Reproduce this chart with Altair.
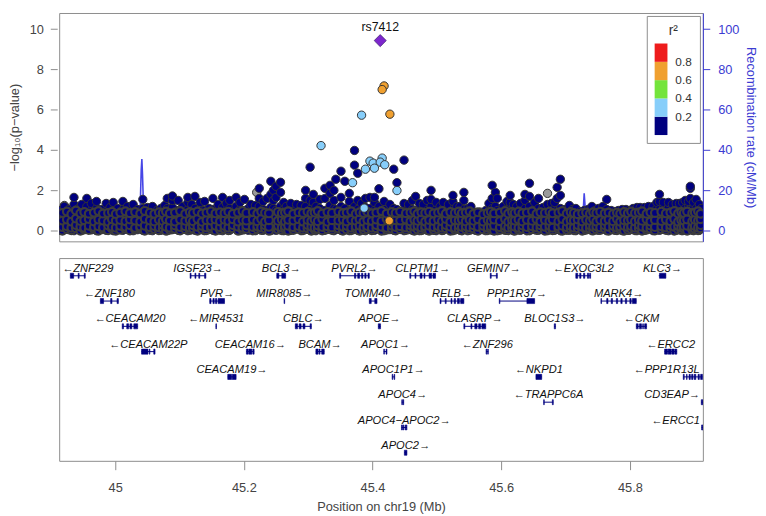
import altair as alt
import pandas as pd

# ---------------- data ----------------
X_DOMAIN = [44.913, 45.9135]
LOGP_DOMAIN = [-0.53, 10.8]
RATE_DOMAIN = [-5.3, 108]

# bulk of SNPs with r2 < 0.2 : (position Mb, [-log10 p values at that position])
navy_snps = [
    (44.915, [0.02, 0.3, 0.65, 1.0]), (44.921, [0.1, 0.45, 0.8, 1.2]),
    (44.928, [0.05, 0.35, 0.7, 1.05]), (44.936, [0.0, 0.25, 0.55, 0.9, 1.3, 1.65]),
    (44.943, [0.08, 0.4, 0.75, 1.1]), (44.948, [0.02, 0.3, 0.6, 0.95, 1.3]),
    (44.956, [0.1, 0.45, 0.8, 1.2, 1.6]), (44.963, [0.04, 0.3, 0.65, 1.0, 1.35]),
    (44.971, [0.0, 0.35, 0.7, 1.1, 1.45]), (44.978, [0.06, 0.4, 0.75, 1.05]),
    (44.986, [0.02, 0.28, 0.6, 0.95, 1.35]), (44.992, [0.1, 0.45, 0.8, 1.15]),
    (44.997, [0.0, 0.3, 0.65, 1.0, 1.4]), (45.004, [0.05, 0.4, 0.75, 1.1]),
    (45.012, [0.02, 0.35, 0.7, 1.05, 1.45]), (45.019, [0.08, 0.3, 0.6, 0.9, 1.2]),
    (45.028, [0.0, 0.4, 0.75, 1.0, 1.3]), (45.035, [0.05, 0.3, 0.65, 1.05]),
    (45.043, [0.02, 0.35, 0.7, 1.1, 1.55]), (45.050, [0.1, 0.4, 0.8, 1.15]),
    (45.058, [0.0, 0.3, 0.6, 0.95, 1.2]), (45.065, [0.06, 0.35, 0.7, 1.0]),
    (45.071, [0.02, 0.4, 0.75, 1.1]), (45.077, [0.1, 0.3, 0.6, 0.95, 1.25]),
    (45.081, [0.0, 0.35, 0.7, 1.1, 1.6]), (45.089, [0.05, 0.4, 0.8, 1.15, 1.5, 1.72]),
    (45.098, [0.02, 0.3, 0.65, 1.0, 1.5]), (45.105, [0.08, 0.45, 0.8, 1.2]),
    (45.113, [0.0, 0.35, 0.7, 1.05, 1.4, 1.65]), (45.119, [0.05, 0.3, 0.6, 0.95, 1.3]),
    (45.124, [0.02, 0.4, 0.75, 1.1, 1.7]), (45.132, [0.1, 0.35, 0.7, 1.05, 1.4]),
    (45.139, [0.0, 0.3, 0.65, 1.0, 1.45]), (45.146, [0.06, 0.4, 0.75, 1.1]),
    (45.152, [0.02, 0.35, 0.7, 1.05, 1.6]), (45.160, [0.1, 0.3, 0.6, 0.95, 1.3]),
    (45.167, [0.0, 0.4, 0.8, 1.15, 1.65]), (45.173, [0.05, 0.35, 0.7, 1.0, 1.35]),
    (45.178, [0.02, 0.3, 0.65, 1.1, 1.5]), (45.188, [0.08, 0.45, 0.8, 1.2, 1.65]),
    (45.194, [0.0, 0.35, 0.7, 1.05, 1.4]), (45.201, [0.05, 0.3, 0.65, 1.0, 1.55]),
    (45.207, [0.02, 0.4, 0.75, 1.1]), (45.211, [0.1, 0.35, 0.7, 1.3]),
    (45.218, [0.0, 0.3, 0.6, 0.95, 1.25]), (45.224, [0.06, 0.4, 0.8, 1.2, 1.6, 2.1]),
    (45.230, [0.02, 0.35, 0.7, 1.05, 1.45]), (45.236, [0.1, 0.3, 0.65, 1.0, 1.6]),
    (45.242, [0.0, 0.4, 0.75, 1.15, 1.8, 2.45]), (45.246, [0.05, 0.35, 0.7, 1.1, 1.5, 2.0]),
    (45.250, [0.02, 0.3, 0.6, 1.0, 1.65, 2.2]), (45.257, [0.08, 0.45, 0.8, 1.2, 1.9, 2.4]),
    (45.262, [0.0, 0.35, 0.7, 1.05, 1.4]), (45.266, [0.05, 0.3, 0.65, 1.2]),
    (45.273, [0.02, 0.4, 0.75, 1.1, 1.35]), (45.282, [0.1, 0.35, 0.7, 1.05, 1.3]),
    (45.289, [0.0, 0.3, 0.6, 0.95, 1.25]), (45.296, [0.06, 0.4, 0.8, 1.2, 1.6, 2.0]),
    (45.303, [0.02, 0.35, 0.7, 1.05, 1.5, 3.15]), (45.308, [0.1, 0.3, 0.65, 1.0, 1.4, 1.8]),
    (45.312, [0.0, 0.4, 0.75, 1.2]), (45.318, [0.05, 0.35, 0.7, 1.1, 1.55]),
    (45.326, [0.02, 0.3, 0.6, 1.0, 1.6, 2.1]), (45.334, [0.08, 0.45, 0.8, 1.25, 1.85, 2.25]),
    (45.340, [0.0, 0.35, 0.7, 1.1, 1.5, 2.0]), (45.343, [0.05, 0.3, 0.65, 1.05, 2.55]),
    (45.351, [0.02, 0.4, 0.75, 1.2, 1.65, 2.95]), (45.357, [0.1, 0.35, 0.7, 1.1, 2.45]),
    (45.364, [0.0, 0.3, 0.65, 1.0, 1.45, 1.85]), (45.372, [0.06, 0.4, 0.8, 1.2, 3.25, 3.98]),
    (45.377, [0.02, 0.35, 0.7, 1.05, 1.5, 2.85]), (45.383, [0.1, 0.3, 0.6, 0.95, 1.35]),
    (45.389, [0.0, 0.4, 0.75, 1.15, 1.6]), (45.396, [0.05, 0.35, 0.7, 1.1, 1.65]),
    (45.403, [0.02, 0.3, 0.65, 1.0, 1.4, 1.65]), (45.410, [0.08, 0.45, 0.8, 1.2, 2.08]),
    (45.418, [0.0, 0.35, 0.7, 1.05, 1.45]), (45.427, [0.05, 0.3, 0.65, 1.0, 1.3]),
    (45.433, [0.02, 0.4, 0.75, 1.1, 3.05]), (45.438, [0.1, 0.35, 0.7, 1.05, 2.38]),
    (45.449, [0.0, 0.3, 0.65, 1.0, 1.35, 3.5]), (45.456, [0.05, 0.4, 0.75, 1.15, 1.3]),
    (45.462, [0.02, 0.35, 0.7, 1.05, 1.5]), (45.467, [0.1, 0.3, 0.6, 1.0, 1.7]),
    (45.473, [0.0, 0.4, 0.75, 1.1, 1.35]), (45.479, [0.05, 0.35, 0.7, 1.05, 1.3]),
    (45.485, [0.02, 0.3, 0.65, 1.0, 1.5]), (45.491, [0.08, 0.45, 0.8, 1.2, 1.55, 2.0]),
    (45.499, [0.0, 0.35, 0.7, 1.05, 1.4]), (45.505, [0.05, 0.3, 0.6, 0.95, 1.2]),
    (45.510, [0.02, 0.4, 0.75, 1.1, 1.4]), (45.518, [0.1, 0.35, 0.7, 1.05, 1.3]),
    (45.525, [0.0, 0.3, 0.65, 1.05, 1.45, 1.75]), (45.531, [0.06, 0.4, 0.8, 1.2]),
    (45.536, [0.02, 0.35, 0.7, 1.2]), (45.542, [0.1, 0.3, 0.65, 1.05, 1.5, 1.9]),
    (45.548, [0.0, 0.4, 0.75, 1.1]), (45.553, [0.05, 0.35, 0.7, 1.05, 1.2]),
    (45.560, [0.02, 0.3, 0.6, 0.9]), (45.568, [0.08, 0.35, 0.7, 0.85]),
    (45.576, [0.0, 0.4, 0.75, 1.0]), (45.581, [0.05, 0.3, 0.65, 1.0, 1.35]),
    (45.586, [0.02, 0.35, 0.7, 1.1, 1.6, 2.25]), (45.591, [0.1, 0.4, 0.8, 1.2, 1.9]),
    (45.594, [0.0, 0.3, 0.65, 1.0, 1.6]), (45.603, [0.05, 0.35, 0.7, 1.05, 1.2]),
    (45.609, [0.02, 0.4, 0.75, 1.1, 1.45]), (45.614, [0.1, 0.3, 0.65, 1.0, 1.4, 1.75]),
    (45.619, [0.0, 0.35, 0.7, 1.05, 1.3]), (45.624, [0.06, 0.4, 0.75, 1.2]),
    (45.630, [0.02, 0.3, 0.65, 1.0, 1.35]), (45.637, [0.1, 0.35, 0.7, 1.1, 1.5, 1.8]),
    (45.644, [0.0, 0.4, 0.8, 1.2, 1.7, 2.35]), (45.652, [0.05, 0.3, 0.65, 1.05, 1.4]),
    (45.658, [0.02, 0.35, 0.7, 1.1, 1.6]), (45.665, [0.1, 0.4, 0.75, 1.15]),
    (45.672, [0.0, 0.3, 0.6, 1.0, 1.3]), (45.678, [0.05, 0.35, 0.7, 1.05, 1.35]),
    (45.683, [0.02, 0.4, 0.75, 1.1, 1.4]), (45.687, [0.08, 0.3, 0.65, 1.0, 1.6, 2.15]),
    (45.692, [0.0, 0.35, 0.7, 1.1, 1.75, 2.55]), (45.699, [0.05, 0.4, 0.75, 1.05]),
    (45.706, [0.02, 0.3, 0.65, 1.0, 1.25]), (45.711, [0.1, 0.35, 0.7, 1.05]),
    (45.716, [0.0, 0.4, 0.75, 1.1]), (45.723, [0.06, 0.3, 0.6, 0.95]),
    (45.729, [0.02, 0.35, 0.7, 1.0]), (45.735, [0.1, 0.4, 0.75, 1.05]),
    (45.741, [0.0, 0.3, 0.65, 1.0, 1.2]), (45.746, [0.05, 0.35, 0.7, 1.0]),
    (45.751, [0.02, 0.4, 0.75, 1.1]), (45.758, [0.1, 0.3, 0.65, 1.0, 1.2]),
    (45.764, [0.0, 0.35, 0.7, 1.05, 1.55]), (45.771, [0.06, 0.4, 0.75, 1.0]),
    (45.777, [0.02, 0.3, 0.6, 0.95]), (45.782, [0.1, 0.35, 0.7, 1.0]),
    (45.788, [0.0, 0.4, 0.75, 1.05]), (45.794, [0.05, 0.3, 0.65, 1.05]),
    (45.799, [0.02, 0.35, 0.7, 1.0]), (45.805, [0.1, 0.4, 0.75, 1.1]),
    (45.811, [0.0, 0.3, 0.65, 1.0, 1.15]), (45.816, [0.05, 0.35, 0.7, 1.15]),
    (45.823, [0.02, 0.4, 0.75, 1.15]), (45.829, [0.1, 0.3, 0.65, 1.0, 1.2]),
    (45.836, [0.0, 0.35, 0.7, 1.05, 1.2]), (45.842, [0.05, 0.4, 0.75, 1.1, 1.4]),
    (45.846, [0.02, 0.3, 0.65, 1.05, 1.45, 1.8]), (45.852, [0.1, 0.35, 0.7, 1.1, 1.4]),
    (45.860, [0.0, 0.4, 0.75, 1.15, 1.4]), (45.866, [0.06, 0.3, 0.65, 1.0, 1.3]),
    (45.872, [0.02, 0.35, 0.7, 1.05, 1.35]), (45.877, [0.1, 0.4, 0.75, 1.1, 1.35]),
    (45.882, [0.0, 0.3, 0.65, 1.0, 1.4]), (45.886, [0.05, 0.35, 0.7, 1.1, 1.5]),
    (45.891, [0.02, 0.4, 0.75, 1.15, 1.45]), (45.894, [0.1, 0.3, 0.65, 1.05, 1.6, 2.1, 2.2]),
    (45.899, [0.0, 0.35, 0.7, 1.1, 1.4]), (45.903, [0.05, 0.4, 0.75, 1.1, 1.55]),
    (45.908, [0.02, 0.3, 0.65, 1.0, 1.3]), (45.911, [0.1, 0.35, 0.7, 1.1]),
]

# the densest low band (-log10 p below ~1), also r2 < 0.2
navy_low = [
    (44.918, [0.0, 0.18, 0.5, 0.88]), (44.925, [0.08, 0.22, 0.55, 0.95]),
    (44.932, [0.02, 0.15, 0.45, 0.82]), (44.939, [0.12, 0.28, 0.6, 1.0]),
    (44.946, [0.0, 0.2, 0.48, 0.86]), (44.952, [0.06, 0.14, 0.52, 0.92]),
    (44.959, [0.03, 0.25, 0.58, 0.84]), (44.967, [0.1, 0.18, 0.46, 0.9]),
    (44.974, [0.0, 0.22, 0.55, 0.97]), (44.981, [0.07, 0.16, 0.5, 0.85]),
    (44.989, [0.02, 0.26, 0.44, 0.88]), (44.995, [0.11, 0.2, 0.57, 0.93]),
    (45.001, [0.0, 0.15, 0.49, 0.83]), (45.008, [0.05, 0.24, 0.53, 0.9]),
    (45.016, [0.09, 0.19, 0.47, 0.96]), (45.023, [0.01, 0.27, 0.56, 0.87]),
    (45.031, [0.06, 0.14, 0.5, 0.92]), (45.039, [0.12, 0.21, 0.45, 0.85]),
    (45.046, [0.0, 0.25, 0.59, 0.98]), (45.054, [0.04, 0.17, 0.51, 0.89]),
    (45.061, [0.08, 0.23, 0.46, 0.84]), (45.068, [0.02, 0.16, 0.54, 0.91]),
    (45.074, [0.1, 0.28, 0.48, 0.87]), (45.079, [0.0, 0.2, 0.57, 0.95]),
    (45.085, [0.05, 0.15, 0.5, 0.86]), (45.093, [0.09, 0.26, 0.45, 0.9]),
    (45.101, [0.01, 0.18, 0.55, 0.97]), (45.109, [0.07, 0.22, 0.49, 0.84]),
    (45.116, [0.03, 0.14, 0.53, 0.92]), (45.121, [0.11, 0.27, 0.47, 0.88]),
    (45.128, [0.0, 0.19, 0.58, 0.95]), (45.135, [0.06, 0.24, 0.44, 0.85]),
    (45.142, [0.02, 0.16, 0.52, 0.9]), (45.149, [0.1, 0.21, 0.5, 0.96]),
    (45.156, [0.0, 0.25, 0.56, 0.86]), (45.163, [0.04, 0.17, 0.46, 0.91]),
    (45.170, [0.08, 0.23, 0.54, 0.87]), (45.176, [0.02, 0.15, 0.48, 0.94]),
    (45.183, [0.12, 0.28, 0.57, 0.84]), (45.191, [0.0, 0.2, 0.45, 0.9]),
    (45.198, [0.05, 0.14, 0.53, 0.97]), (45.204, [0.09, 0.26, 0.5, 0.88]),
    (45.214, [0.01, 0.18, 0.55, 0.92]), (45.221, [0.07, 0.22, 0.47, 0.85]),
    (45.227, [0.03, 0.16, 0.58, 0.95]), (45.233, [0.11, 0.27, 0.44, 0.89]),
    (45.239, [0.0, 0.19, 0.52, 0.86]), (45.253, [0.06, 0.24, 0.49, 0.93]),
    (45.259, [0.02, 0.15, 0.56, 0.87]), (45.264, [0.1, 0.21, 0.46, 0.9]),
    (45.269, [0.0, 0.25, 0.54, 0.96]), (45.277, [0.04, 0.17, 0.5, 0.84]),
    (45.285, [0.08, 0.23, 0.57, 0.91]), (45.292, [0.02, 0.15, 0.45, 0.88]),
    (45.299, [0.12, 0.28, 0.53, 0.94]), (45.305, [0.0, 0.2, 0.48, 0.86]),
    (45.310, [0.05, 0.14, 0.55, 0.9]), (45.315, [0.09, 0.26, 0.47, 0.97]),
    (45.322, [0.01, 0.18, 0.58, 0.85]), (45.330, [0.07, 0.22, 0.44, 0.92]),
    (45.337, [0.03, 0.16, 0.52, 0.88]), (45.347, [0.11, 0.27, 0.5, 0.95]),
    (45.354, [0.0, 0.19, 0.56, 0.87]), (45.360, [0.06, 0.24, 0.46, 0.9]),
    (45.367, [0.02, 0.15, 0.54, 0.96]), (45.374, [0.1, 0.21, 0.49, 0.84]),
    (45.380, [0.0, 0.25, 0.57, 0.91]), (45.386, [0.04, 0.17, 0.45, 0.88]),
    (45.392, [0.08, 0.23, 0.53, 0.94]), (45.399, [0.02, 0.15, 0.48, 0.86]),
    (45.406, [0.12, 0.28, 0.55, 0.9]), (45.414, [0.0, 0.2, 0.47, 0.97]),
    (45.422, [0.05, 0.14, 0.58, 0.85]), (45.430, [0.09, 0.26, 0.44, 0.92]),
    (45.436, [0.01, 0.18, 0.52, 0.88]), (45.443, [0.07, 0.22, 0.5, 0.95]),
    (45.452, [0.03, 0.16, 0.56, 0.87]), (45.459, [0.11, 0.27, 0.46, 0.9]),
    (45.465, [0.0, 0.19, 0.54, 0.96]), (45.470, [0.06, 0.24, 0.49, 0.84]),
    (45.476, [0.02, 0.15, 0.57, 0.91]), (45.482, [0.1, 0.21, 0.45, 0.88]),
    (45.488, [0.0, 0.25, 0.53, 0.94]), (45.495, [0.04, 0.17, 0.48, 0.86]),
    (45.502, [0.08, 0.23, 0.55, 0.9]), (45.508, [0.02, 0.15, 0.47, 0.97]),
    (45.514, [0.12, 0.28, 0.58, 0.85]), (45.521, [0.0, 0.2, 0.44, 0.92]),
    (45.528, [0.05, 0.14, 0.52, 0.88]), (45.534, [0.09, 0.26, 0.5, 0.95]),
    (45.539, [0.01, 0.18, 0.56, 0.87]), (45.545, [0.07, 0.22, 0.46, 0.9]),
    (45.551, [0.03, 0.16, 0.54, 0.96]), (45.557, [0.11, 0.27, 0.49, 0.84]),
    (45.564, [0.0, 0.19, 0.57, 0.91]), (45.572, [0.06, 0.24, 0.45, 0.82]),
    (45.579, [0.02, 0.15, 0.53, 0.88]), (45.584, [0.1, 0.21, 0.48, 0.94]),
    (45.589, [0.0, 0.25, 0.55, 0.86]), (45.598, [0.04, 0.17, 0.47, 0.9]),
    (45.606, [0.08, 0.23, 0.58, 0.97]), (45.611, [0.02, 0.15, 0.44, 0.85]),
    (45.617, [0.12, 0.28, 0.52, 0.92]), (45.621, [0.0, 0.2, 0.5, 0.88]),
    (45.627, [0.05, 0.14, 0.56, 0.95]), (45.633, [0.09, 0.26, 0.46, 0.87]),
    (45.640, [0.01, 0.18, 0.54, 0.9]), (45.648, [0.07, 0.22, 0.49, 0.96]),
    (45.655, [0.03, 0.16, 0.57, 0.84]), (45.661, [0.11, 0.27, 0.45, 0.91]),
    (45.668, [0.0, 0.19, 0.53, 0.88]), (45.675, [0.06, 0.24, 0.48, 0.94]),
    (45.680, [0.02, 0.15, 0.55, 0.86]), (45.689, [0.1, 0.21, 0.47, 0.9]),
    (45.695, [0.0, 0.25, 0.58, 0.97]), (45.702, [0.04, 0.17, 0.44, 0.85]),
    (45.708, [0.08, 0.23, 0.52, 0.92]), (45.713, [0.02, 0.15, 0.5, 0.88]),
    (45.719, [0.12, 0.28, 0.56, 0.82]), (45.726, [0.0, 0.2, 0.46, 0.87]),
    (45.732, [0.05, 0.14, 0.54, 0.9]), (45.738, [0.09, 0.26, 0.49, 0.84]),
    (45.743, [0.01, 0.18, 0.57, 0.91]), (45.748, [0.07, 0.22, 0.45, 0.88]),
    (45.754, [0.03, 0.16, 0.53, 0.94]), (45.761, [0.11, 0.27, 0.48, 0.86]),
    (45.767, [0.0, 0.19, 0.55, 0.9]), (45.774, [0.06, 0.24, 0.47, 0.83]),
    (45.780, [0.02, 0.15, 0.58, 0.89]), (45.785, [0.1, 0.21, 0.44, 0.85]),
    (45.791, [0.0, 0.25, 0.52, 0.92]), (45.797, [0.04, 0.17, 0.5, 0.87]),
    (45.802, [0.08, 0.23, 0.56, 0.95]), (45.808, [0.02, 0.15, 0.46, 0.88]),
    (45.814, [0.12, 0.28, 0.54, 0.9]), (45.819, [0.0, 0.2, 0.49, 0.96]),
    (45.826, [0.05, 0.14, 0.57, 0.84]), (45.832, [0.09, 0.26, 0.45, 0.91]),
    (45.839, [0.01, 0.18, 0.53, 0.88]), (45.849, [0.07, 0.22, 0.48, 0.94]),
    (45.856, [0.03, 0.16, 0.55, 0.86]), (45.863, [0.11, 0.27, 0.47, 0.9]),
    (45.869, [0.0, 0.19, 0.58, 0.97]), (45.875, [0.06, 0.24, 0.44, 0.85]),
    (45.880, [0.02, 0.15, 0.52, 0.92]), (45.884, [0.1, 0.21, 0.5, 0.88]),
    (45.889, [0.0, 0.25, 0.56, 0.95]), (45.897, [0.04, 0.17, 0.46, 0.87]),
    (45.901, [0.08, 0.23, 0.54, 0.9]), (45.906, [0.02, 0.15, 0.49, 0.96]),
    (45.910, [0.12, 0.28, 0.57, 0.84]),
]
navy_r2 = 0.1

lightblue_pos = [45.320, 45.383, 45.396, 45.401, 45.415, 45.412, 45.419, 45.389, 45.403, 45.369, 45.438, 45.387]
lightblue_logp = [4.22, 5.73, 3.45, 3.35, 3.6, 3.4, 3.27, 3.05, 3.1, 2.38, 1.99, 1.12]
lightblue_r2 = [0.31, 0.38, 0.27, 0.25, 0.33, 0.29, 0.26, 0.24, 0.28, 0.22, 0.21, 0.23]

orange_pos = [45.418, 45.415, 45.427, 45.426]
orange_logp = [7.18, 7.0, 5.78, 0.49]
orange_r2 = [0.72, 0.70, 0.66, 0.63]

gray_pos = [44.921, 45.220, 45.568, 45.496, 45.606, 45.672]
gray_logp = [1.25, 1.9, 0.92, 0.02, 0.02, 1.85]

lead_pos = [45.412]
lead_logp = [9.43]
lead_name = ["rs7412"]

recomb_pos = [44.913, 44.95, 44.99, 45.02, 45.038, 45.0405, 45.0415, 45.0425, 45.045, 45.07,
              45.078, 45.081, 45.085, 45.10, 45.15, 45.20, 45.25, 45.30, 45.35, 45.36, 45.40,
              45.45, 45.50, 45.55, 45.60, 45.65, 45.70, 45.726, 45.729, 45.7305, 45.733, 45.76,
              45.80, 45.85, 45.90, 45.9135]
recomb_rate = [1.0, 0.8, 1.5, 0.6, 1.2, 30.0, 35.5, 28.0, 2.0, 0.8,
               2.0, 6.5, 2.0, 1.2, 0.5, 1.0, 0.7, 1.5, 0.9, 2.5, 0.6,
               1.0, 0.5, 1.2, 0.8, 0.6, 1.0, 0.8, 18.5, 12.0, 1.0, 0.7,
               1.1, 0.6, 1.3, 0.9]

# genes: name, strand, row, start, end, exons
gene_name = ["ZNF229", "IGSF23", "BCL3", "PVRL2", "CLPTM1", "GEMIN7", "EXOC3L2", "KLC3",
             "ZNF180", "PVR", "MIR8085", "TOMM40", "RELB", "PPP1R37", "MARK4",
             "CEACAM20", "MIR4531", "CBLC", "APOE", "CLASRP", "BLOC1S3", "CKM",
             "CEACAM22P", "CEACAM16", "BCAM", "APOC1", "ZNF296", "ERCC2",
             "CEACAM19", "APOC1P1", "NKPD1", "PPP1R13L",
             "APOC4", "TRAPPC6A", "CD3EAP",
             "APOC4−APOC2", "ERCC1",
             "APOC2"]
gene_strand = [-1, 1, 1, 1, 1, 1, -1, 1,
               -1, 1, 1, 1, 1, 1, 1,
               -1, -1, 1, 1, 1, 1, -1,
               -1, 1, 1, 1, -1, -1,
               1, 1, -1, -1,
               1, -1, 1,
               1, -1,
               1]
gene_row = [1, 1, 1, 1, 1, 1, 1, 1,
            2, 2, 2, 2, 2, 2, 2,
            3, 3, 3, 3, 3, 3, 3,
            4, 4, 4, 4, 4, 4,
            5, 5, 5, 5,
            6, 6, 6,
            7, 7,
            8]
gene_start = [44.9303, 45.1165, 45.2512, 45.349, 45.458, 45.583, 45.716, 45.845,
              44.977, 45.147, 45.2625, 45.395, 45.505, 45.597, 45.755,
              45.011, 45.1565, 45.280, 45.409, 45.542, 45.6825, 45.810,
              45.041, 45.204, 45.312, 45.4175, 45.5765, 45.854,
              45.175, 45.4305, 45.654, 45.883,
              45.4455, 45.666, 45.911,
              45.445, 45.9115,
              45.4495]
gene_end = [44.9535, 45.141, 45.265, 45.395, 45.498, 45.594, 45.739, 45.856,
            45.005, 45.170, 45.2635, 45.407, 45.542, 45.652, 45.810,
            45.035, 45.1575, 45.305, 45.4125, 45.576, 45.6845, 45.826,
            45.062, 45.216, 45.325, 45.4225, 45.580, 45.873,
            45.188, 45.4345, 45.663, 45.913,
            45.4485, 45.681, 45.914,
            45.4535, 45.94,
            45.4535]
gene_exons = [
    [(44.9303, 44.9355), (44.9425, 44.944), (44.952, 44.9535)],
    [(45.1165, 45.118), (45.124, 45.1255), (45.130, 45.1315), (45.139, 45.141)],
    [(45.2512, 45.2545), (45.259, 45.265)],
    [(45.349, 45.3505), (45.372, 45.374), (45.377, 45.380), (45.383, 45.385), (45.388, 45.390), (45.393, 45.395)],
    [(45.458, 45.4595), (45.466, 45.4675), (45.474, 45.477), (45.480, 45.4815), (45.488, 45.492), (45.494, 45.498)],
    [(45.583, 45.5845), (45.5925, 45.594)],
    [(45.716, 45.719), (45.722, 45.724), (45.728, 45.730), (45.734, 45.736), (45.7375, 45.739)],
    [(45.846, 45.856)],
    [(44.977, 44.982), (44.993, 44.995), (45.003, 45.005)],
    [(45.147, 45.149), (45.152, 45.154), (45.156, 45.158), (45.160, 45.170)],
    [(45.2625, 45.2635)],
    [(45.395, 45.398), (45.4035, 45.407)],
    [(45.505, 45.5065), (45.513, 45.5145), (45.522, 45.5235), (45.527, 45.529), (45.532, 45.535), (45.537, 45.542)],
    [(45.597, 45.598), (45.640, 45.652)],
    [(45.755, 45.756), (45.764, 45.766), (45.771, 45.773), (45.779, 45.781), (45.786, 45.788), (45.793, 45.795), (45.800, 45.802), (45.804, 45.810)],
    [(45.011, 45.013), (45.018, 45.021), (45.023, 45.026), (45.029, 45.035)],
    [(45.1565, 45.1575)],
    [(45.280, 45.2835), (45.286, 45.289), (45.292, 45.295), (45.303, 45.305)],
    [(45.409, 45.4125)],
    [(45.542, 45.5435), (45.553, 45.5545), (45.559, 45.5625), (45.565, 45.568), (45.570, 45.576)],
    [(45.6825, 45.6845)],
    [(45.810, 45.813), (45.815, 45.818), (45.820, 45.821), (45.823, 45.826)],
    [(45.041, 45.051), (45.053, 45.054), (45.060, 45.062)],
    [(45.204, 45.207), (45.208, 45.2125), (45.214, 45.216)],
    [(45.312, 45.3155), (45.317, 45.3185), (45.321, 45.325)],
    [(45.4175, 45.4185), (45.421, 45.4225)],
    [(45.5765, 45.5775), (45.579, 45.580)],
    [(45.854, 45.8585), (45.8595, 45.864), (45.865, 45.869), (45.870, 45.873)],
    [(45.175, 45.181), (45.182, 45.188)],
    [(45.4305, 45.4315), (45.4335, 45.4345)],
    [(45.654, 45.663)],
    [(45.883, 45.8845), (45.888, 45.889), (45.892, 45.894), (45.896, 45.898), (45.900, 45.9025), (45.906, 45.908), (45.910, 45.913)],
    [(45.4455, 45.4465), (45.4475, 45.4485)],
    [(45.666, 45.667), (45.6795, 45.681)],
    [(45.911, 45.914)],
    [(45.445, 45.4465), (45.4475, 45.4485), (45.4505, 45.4515), (45.4525, 45.4535)],
    [(45.9115, 45.94)],
    [(45.4495, 45.4535)],
]

x_ticks = [45.0, 45.2, 45.4, 45.6, 45.8]
logp_ticks = [0, 2, 4, 6, 8, 10]
rate_ticks = [0, 20, 40, 60, 80, 100]
r2_breaks = [0.2, 0.4, 0.6, 0.8]

# ---------------- style ----------------
FONT = "Liberation Sans"
NAVY = "#00007F"
LIGHTBLUE = "#87CEFA"
GREEN = "#74E43C"
ORANGE = "#F0A030"
RED = "#EE1C1C"
PURPLE = "#7D26CD"
GRAY = "#9A9A9A"
PT_STROKE = "#333333"
LOW_STROKE = "#3C3C3C"
REC_LINE = "#4646E6"
REC_AXIS = "#3C3CD2"
AX_TXT = "#444444"
FRAME = "#8C8C8C"

W = 654
H_TOP = 232
H_GENE = 206
GENE_FS = 11.3

# ---------------- tables ----------------
low_df = pd.DataFrame([{"pos": p, "logp": v, "r2": navy_r2} for p, vals in navy_low for v in vals])
navy_df = pd.DataFrame([{"pos": p, "logp": v, "r2": navy_r2} for p, vals in navy_snps for v in vals])
lb_df = pd.DataFrame({"pos": lightblue_pos, "logp": lightblue_logp, "r2": lightblue_r2})
or_df = pd.DataFrame({"pos": orange_pos, "logp": orange_logp, "r2": orange_r2})
gray_df = pd.DataFrame({"pos": gray_pos, "logp": gray_logp})
lead_df = pd.DataFrame({"pos": lead_pos, "logp": lead_logp, "name": lead_name})
rec_df = pd.DataFrame({"pos": recomb_pos, "rate": recomb_rate})


def text_width(s, fs):
    w = 0.0
    for ch in s:
        if ch in "←→":
            w += 1.0
        elif ch.isdigit():
            w += 0.556
        elif ch == "−":
            w += 0.584
        elif ch == "M":
            w += 0.833
        elif ch in "CDGHNOQRU":
            w += 0.722
        elif ch == "I":
            w += 0.278
        elif ch == "J":
            w += 0.5
        elif ch in "FTZL":
            w += 0.611
        else:
            w += 0.667
    return w * fs


span = X_DOMAIN[1] - X_DOMAIN[0]
labels, label_x = [], []
for n, s, a, b in zip(gene_name, gene_strand, gene_start, gene_end):
    lab = ("←" + n) if s < 0 else (n + "→")
    labels.append(lab)
    c = (max(a, X_DOMAIN[0]) + min(b, X_DOMAIN[1])) / 2
    cpx = (c - X_DOMAIN[0]) / span * W
    half = text_width(lab, GENE_FS) / 2 + 3
    cpx = min(max(cpx, half), W - half)
    label_x.append(X_DOMAIN[0] + cpx / W * span)

gene_df = pd.DataFrame({"name": gene_name, "label": labels, "lx": label_x, "row": gene_row,
                        "start": gene_start, "end": gene_end})
exon_df = pd.DataFrame([{"row": r, "es": e0, "ee": e1}
                        for r, ex in zip(gene_row, gene_exons) for e0, e1 in ex])

# ---------------- top panel ----------------
x_top = alt.X("pos:Q", scale=alt.Scale(domain=X_DOMAIN, nice=False, zero=False), axis=None)
y_logp = alt.Y("logp:Q", scale=alt.Scale(domain=LOGP_DOMAIN, nice=False, zero=False),
               axis=alt.Axis(values=logp_ticks, title="−log₁₀(p−value)", tickSize=7, offset=2,
                             labelPadding=7, titlePadding=8, domain=False))
fill_scale = alt.Scale(type="threshold", domain=r2_breaks,
                       range=[NAVY, LIGHTBLUE, GREEN, ORANGE, RED])
r2_legend = alt.Legend(type="gradient", direction="vertical", orient="top-right", offset=3,
                       title="r²", titleAnchor="middle", titleFontSize=14, titleFontWeight="normal",
                       titleColor="#333", titlePadding=6, gradientLength=93, gradientThickness=13,
                       gradientStrokeWidth=0, labelFontSize=12, labelColor="#333", labelOffset=8,
                       padding=8, strokeColor=FRAME, fillColor="white", cornerRadius=0)
fill_enc = alt.Fill("r2:Q", scale=fill_scale, legend=r2_legend)

pt = dict(size=72, stroke=PT_STROKE, strokeWidth=1, opacity=1, clip=True)
pt_low = dict(size=64, stroke=LOW_STROKE, strokeWidth=2.2, opacity=1, clip=True)

gray_layer = alt.Chart(gray_df).mark_circle(color=GRAY, **pt).encode(x=x_top, y=y_logp)
navy_layer = alt.Chart(navy_df).mark_circle(**pt).encode(x=x_top, y=y_logp, fill=fill_enc)
low_layer = alt.Chart(low_df).mark_circle(**pt_low).encode(x=x_top, y=y_logp, fill=fill_enc)
lb_layer = alt.Chart(lb_df).mark_circle(**pt).encode(x=x_top, y=y_logp, fill=fill_enc)
or_layer = alt.Chart(or_df).mark_circle(**pt).encode(x=x_top, y=y_logp, fill=fill_enc)
lead_layer = alt.Chart(lead_df).mark_point(shape="diamond", filled=True, size=150, color=PURPLE,
                                           stroke="#4A2A7A", strokeWidth=0.8, opacity=1).encode(
    x=x_top, y=y_logp)
lead_text = alt.Chart(lead_df).mark_text(dy=-10, baseline="alphabetic", fontSize=12.5,
                                         color="#111", font=FONT).encode(
    x=x_top, y=y_logp, text="name:N")

points = alt.layer(gray_layer, navy_layer, low_layer, lb_layer, or_layer, lead_layer, lead_text)

rec_layer = alt.Chart(rec_df).mark_line(color=REC_LINE, strokeWidth=1.6, clip=True).encode(
    x=x_top,
    y=alt.Y("rate:Q", scale=alt.Scale(domain=RATE_DOMAIN, nice=False, zero=False),
            axis=alt.Axis(orient="right", values=rate_ticks, title="Recombination rate (cM/Mb)",
                          titleColor=REC_AXIS, labelColor=REC_AXIS, tickColor=REC_AXIS,
                          domain=True, domainColor=REC_AXIS, tickSize=7, labelPadding=8,
                          titlePadding=5)))

top = alt.layer(rec_layer, points).resolve_scale(y="independent").properties(width=W, height=H_TOP)

# ---------------- gene panel ----------------
x_gene_axis = alt.Axis(values=x_ticks, format=".1~f", title="Position on chr19 (Mb)", tickSize=9,
                       labelPadding=12, titlePadding=6, domain=False)
gx = alt.Scale(domain=X_DOMAIN, nice=False, zero=False)
gy = alt.Scale(domain=[0.30, 8.32], reverse=True, nice=False, zero=False)

gene_lines = alt.Chart(gene_df).mark_rule(color=NAVY, strokeWidth=1, clip=True).encode(
    x=alt.X("start:Q", scale=gx, axis=x_gene_axis), x2="end:Q",
    y=alt.Y("row:Q", scale=gy, axis=None))
exons = alt.Chart(exon_df).transform_calculate(
    y0="datum.row - 0.1", y1="datum.row + 0.1").mark_rect(
    color=NAVY, stroke=NAVY, strokeWidth=0.6, clip=True).encode(
    x=alt.X("es:Q", scale=gx, axis=x_gene_axis), x2="ee:Q",
    y=alt.Y("y0:Q", scale=gy, axis=None), y2="y1:Q")
gene_text = alt.Chart(gene_df).mark_text(fontStyle="italic", fontSize=GENE_FS, font=FONT,
                                         color="#111", baseline="alphabetic", dy=-4).encode(
    x=alt.X("lx:Q", scale=gx, axis=x_gene_axis),
    y=alt.Y("row:Q", scale=gy, axis=None), text="label:N")

genes = alt.layer(gene_lines, exons, gene_text).properties(width=W, height=H_GENE)

chart = alt.vconcat(top, genes, spacing=15).resolve_legend(fill="independent").properties(
    padding={"left": 0, "top": 0, "right": 0, "bottom": 0}
).configure(font=FONT).configure_view(stroke=FRAME, strokeWidth=1).configure_axis(
    labelFont=FONT, titleFont=FONT, labelFontSize=13, titleFontSize=13, titleFontWeight="normal",
    labelColor=AX_TXT, titleColor=AX_TXT, tickColor=FRAME, grid=False
).configure_legend(labelFont=FONT, titleFont=FONT)

chart.save("out.html", embed_options={"renderer": "svg", "actions": False})
